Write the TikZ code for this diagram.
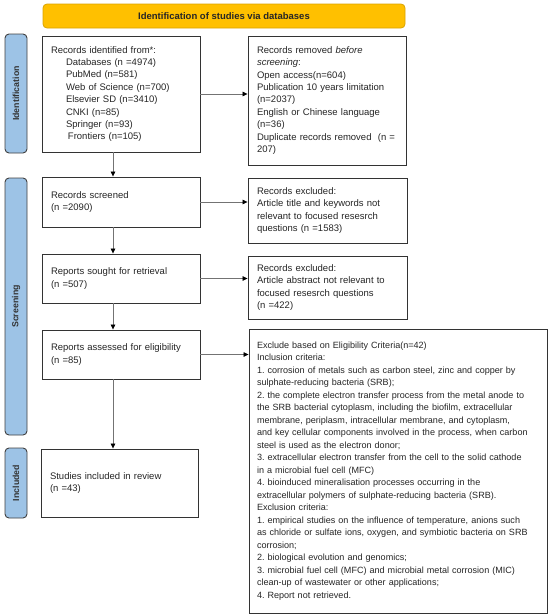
\documentclass[tikz,border=0pt]{standalone}
\usepackage{fontspec}
\setmainfont{Liberation Sans}
\usetikzlibrary{arrows.meta}
\definecolor{sideblue}{HTML}{9DC3E6}
\definecolor{titlefill}{HTML}{FFC000}
\definecolor{titledraw}{HTML}{D9A300}
\begin{document}
\frenchspacing
\begin{tikzpicture}[x=1pt,y=-1pt,
  txt/.style={font=\fontsize{9.5}{12.4}\selectfont\frenchspacing, text=black!85},
  box/.style={txt, draw=black!80, line width=0.9pt, fill=white, align=left, inner xsep=9pt, inner ysep=0pt, anchor=center},
  side/.style={draw=black!75, line width=0.9pt, fill=sideblue, rounded corners=4pt, rotate=90, font=\fontsize{8.8}{10}\selectfont\bfseries, text=black!80, inner sep=0pt, anchor=center, minimum height=22pt},
  conn/.style={draw=black!55, line width=0.7pt, -{Triangle[length=5pt,width=4.5pt,color=black]}}
]
\useasboundingbox (0,0) rectangle (550,616);

% title banner
\node[draw=titledraw, fill=titlefill, line width=0.8pt, rounded corners=4pt, minimum width=362pt, minimum height=24pt, inner sep=0pt, font=\fontsize{9.5}{11}\selectfont\bfseries, text=black!85, anchor=center] (title) at (224,16) {Identification of studies via databases};

% side labels
\node[side, minimum width=119pt] (idlab) at (16,93.5) {Identification};
\node[side, minimum width=257pt] (scrlab) at (16,306.5) {Screening};
\node[side, minimum width=70pt] (inclab) at (16,483) {Included};

% left column
\node[box, text width=140pt, minimum width=158pt, minimum height=116pt] (ident) at (121,94) {Records identified from*:\\
\hspace*{15pt}Databases (n =4974)\\
\hspace*{15pt}PubMed (n=581)\\
\hspace*{15pt}Web of Science (n=700)\\
\hspace*{15pt}Elsevier SD (n=3410)\\
\hspace*{15pt}CNKI (n=85)\\
\hspace*{15pt}Springer (n=93)\\
\hspace*{17pt}Frontiers (n=105)};

\node[box, text width=140pt, minimum width=158pt, minimum height=50pt] (screened) at (121,202) {Records screened\\(n =2090)};
\node[box, text width=140pt, minimum width=158pt, minimum height=49pt] (sought) at (121,278.5) {Reports sought for retrieval\\(n =507)};
\node[box, text width=140pt, minimum width=158pt, minimum height=49pt] (assessed) at (121,354.5) {Reports assessed for eligibility\\(n =85)};
\node[box, text width=139pt, minimum width=157pt, minimum height=68pt] (included) at (119.5,483) {Studies included in review\\(n =43)};

% right column
\node[box, text width=140pt, minimum width=158pt, minimum height=129pt] (removed) at (327,100.5) {Records removed \textit{before}\\
\textit{screening}:\\
Open access(n=604)\\
Publication 10 years limitation\\
(n=2037)\\
English or Chinese language\\
(n=36)\\
Duplicate records removed\ \ (n =\\
207)};

\node[box, text width=141pt, minimum width=159pt, minimum height=65pt] (excl1) at (327.5,210.5) {Records excluded:\\
Article title and keywords not\\
relevant to focused resesrch\\
questions (n =1583)};

\node[box, text width=141pt, minimum width=159pt, minimum height=63pt] (excl2) at (327.5,287.5) {Records excluded:\\
Article abstract not relevant to\\
focused resesrch questions\\
(n =422)};

\node[box, inner xsep=8pt, text width=282pt, minimum width=298pt, minimum height=284pt, font=\fontsize{9.05}{12.5}\selectfont\frenchspacing] (elig) at (398,471) {Exclude based on Eligibility Criteria(n=42)\\
Inclusion criteria:\\
1. corrosion of metals such as carbon steel, zinc and copper by\\
sulphate-reducing bacteria (SRB);\\
2. the complete electron transfer process from the metal anode to\\
the SRB bacterial cytoplasm, including the biofilm, extracellular\\
membrane, periplasm, intracellular membrane, and cytoplasm,\\
and key cellular components involved in the process, when carbon\\
steel is used as the electron donor;\\
3. extracellular electron transfer from the cell to the solid cathode\\
in a microbial fuel cell (MFC)\\
4. bioinduced mineralisation processes occurring in the\\
extracellular polymers of sulphate-reducing bacteria (SRB).\\
Exclusion criteria:\\
1. empirical studies on the influence of temperature, anions such\\
as chloride or sulfate ions, oxygen, and symbiotic bacteria on SRB\\
corrosion;\\
2. biological evolution and genomics;\\
3. microbial fuel cell (MFC) and microbial metal corrosion (MIC)\\
clean-up of wastewater or other applications;\\
4. Report not retrieved.};

% connectors
\coordinate (vx) at (113,0);
\draw[conn] (ident.south -| vx) -- (screened.north -| vx);
\draw[conn] (screened.south -| vx) -- (sought.north -| vx);
\draw[conn] (sought.south -| vx) -- (assessed.north -| vx);
\draw[conn] (assessed.south -| vx) -- (included.north -| vx);

\draw[conn] (ident.east) -- (ident.east -| removed.west);
\draw[conn] (screened.east) -- (screened.east -| excl1.west);
\draw[conn] (sought.east) -- (sought.east -| excl2.west);
\draw[conn] (assessed.east) -- (assessed.east -| elig.west);
\end{tikzpicture}
\end{document}
